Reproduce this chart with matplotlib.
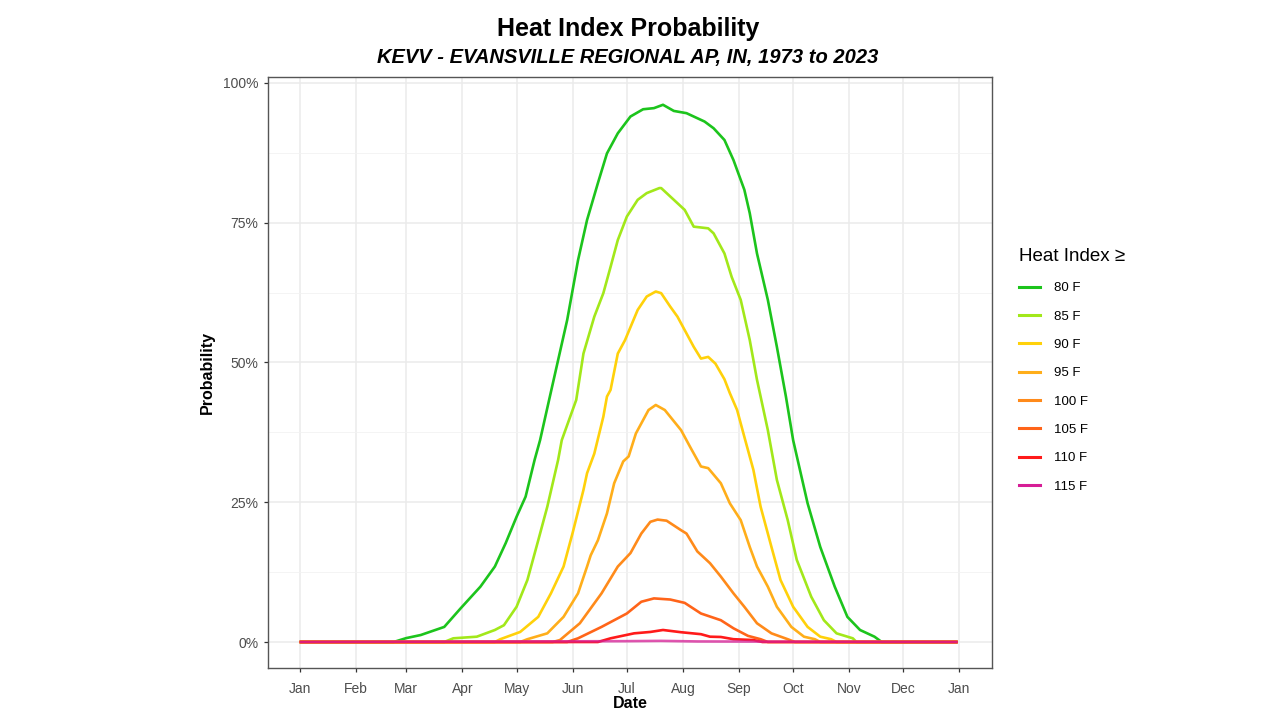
import numpy as np
import matplotlib
matplotlib.use("Agg")
import matplotlib.pyplot as plt
from matplotlib.lines import Line2D
from matplotlib.ticker import FixedLocator, PercentFormatter

plt.rcParams['font.family'] = ['Liberation Sans', 'DejaVu Sans']

# ---- data (day of year from Jan 1, probability) ----
days_80 = [0, 52, 59, 67, 80, 89, 100, 108, 114, 120, 125, 130, 133, 138, 148, 154, 159, 165,
           170, 176, 183, 190, 196, 201, 207, 214, 224, 229, 235, 240, 246, 249, 253, 259, 264,
           269, 273, 281, 288, 296, 303, 310, 318, 322, 364]
prob_80 = [0, 0, 0.007, 0.0125, 0.027, 0.060, 0.099, 0.135, 0.177, 0.224, 0.260, 0.326, 0.361,
           0.433, 0.576, 0.683, 0.755, 0.821, 0.874, 0.910, 0.940, 0.953, 0.955, 0.961, 0.950,
           0.946, 0.931, 0.919, 0.898, 0.862, 0.809, 0.767, 0.695, 0.612, 0.528, 0.439, 0.361,
           0.248, 0.170, 0.099, 0.045, 0.0215, 0.0095, 0, 0]

days_85 = [0, 80, 85, 98, 108, 113, 120, 126, 132, 137, 143, 145, 153, 157, 163, 168, 172, 176,
           181, 187, 192, 199, 200, 207, 213, 218, 226, 229, 235, 239, 244, 249, 253, 255, 259,
           264, 270, 275, 283, 290, 297, 306, 308, 364]
prob_85 = [0, 0, 0.0066, 0.0095, 0.0215, 0.030, 0.063, 0.111, 0.182, 0.242, 0.326, 0.361, 0.433,
           0.516, 0.582, 0.624, 0.671, 0.719, 0.761, 0.791, 0.803, 0.812, 0.812, 0.791, 0.773,
           0.743, 0.740, 0.731, 0.695, 0.653, 0.612, 0.540, 0.469, 0.439, 0.379, 0.290, 0.218,
           0.147, 0.081, 0.039, 0.0155, 0.0066, 0, 0]

days_90 = [0, 108, 111, 122, 132, 139, 146, 151, 157, 159, 163, 168, 170, 172, 176, 180, 187,
           192, 197, 200, 205, 209, 214, 218, 222, 226, 230, 235, 238, 242, 246, 251, 255, 261,
           266, 273, 281, 288, 294, 297, 364]
prob_90 = [0, 0, 0.005, 0.018, 0.045, 0.087, 0.135, 0.195, 0.272, 0.302, 0.337, 0.403, 0.439,
           0.451, 0.516, 0.540, 0.594, 0.618, 0.627, 0.624, 0.600, 0.582, 0.552, 0.528, 0.507,
           0.510, 0.498, 0.470, 0.445, 0.415, 0.367, 0.308, 0.242, 0.170, 0.111, 0.063, 0.027,
           0.0095, 0.005, 0, 0]

days_95 = [0, 122, 126, 137, 146, 154, 159, 161, 165, 170, 174, 179, 182, 186, 189, 193, 197,
           202, 205, 211, 216, 222, 226, 233, 238, 244, 249, 253, 259, 264, 272, 279, 285, 288, 364]
prob_95 = [0, 0, 0.005, 0.0155, 0.045, 0.087, 0.135, 0.155, 0.182, 0.230, 0.284, 0.323, 0.332,
           0.373, 0.391, 0.415, 0.424, 0.415, 0.403, 0.379, 0.349, 0.314, 0.311, 0.284, 0.248,
           0.218, 0.170, 0.135, 0.099, 0.063, 0.027, 0.0095, 0.005, 0, 0]

days_100 = [0, 140, 144, 155, 167, 176, 183, 189, 194, 198, 203, 211, 214, 220, 227, 233, 240,
            246, 253, 261, 270, 274, 364]
prob_100 = [0, 0, 0.0035, 0.0335, 0.087, 0.135, 0.159, 0.194, 0.215, 0.219, 0.217, 0.200, 0.194,
            0.162, 0.141, 0.117, 0.087, 0.063, 0.0335, 0.0155, 0.005, 0, 0]

days_105 = [0, 148, 154, 167, 181, 189, 196, 205, 213, 222, 233, 240, 248, 255, 259, 364]
prob_105 = [0, 0, 0.0066, 0.027, 0.051, 0.072, 0.078, 0.076, 0.070, 0.051, 0.039, 0.0245, 0.011,
            0.005, 0, 0]

days_110 = [0, 165, 172, 185, 194, 201, 211, 222, 227, 233, 240, 251, 256, 364]
prob_110 = [0, 0, 0.0066, 0.0155, 0.018, 0.0215, 0.0175, 0.014, 0.0095, 0.009, 0.005, 0.0035, 0, 0]

days_115 = [0, 180, 200, 220, 364]
prob_115 = [0, 0.0015, 0.002, 0.001, 0]

labels = ["80 F", "85 F", "90 F", "95 F", "100 F", "105 F", "110 F", "115 F"]
colors = ["#1cc41c", "#a2e81a", "#ffd10a", "#ffae1a", "#ff8a1a", "#ff6419", "#ff1a1a", "#d61e96"]

month_days = [0, 31, 59, 90, 120, 151, 181, 212, 243, 273, 304, 334, 365]
month_labels = ["Jan", "Feb", "Mar", "Apr", "May", "Jun", "Jul", "Aug", "Sep", "Oct", "Nov",
                "Dec", "Jan"]
y_ticks = [0, 0.25, 0.5, 0.75, 1.0]

series = [(days_80, prob_80), (days_85, prob_85), (days_90, prob_90), (days_95, prob_95),
          (days_100, prob_100), (days_105, prob_105), (days_110, prob_110), (days_115, prob_115)]

fig = plt.figure(figsize=(12.8, 7.2), dpi=100)
ax = fig.add_axes([268 / 1280, 52 / 720, 724 / 1280, 591 / 720])

for i, (d, p) in enumerate(series):
    a = 0.75 if i == len(series) - 1 else 1.0
    ax.plot(d, p, color=colors[i], lw=1.9, alpha=a, solid_capstyle='butt', zorder=3 + i)

ax.set_xlim(-17.5, 383)
ax.set_ylim(-0.0465, 1.0107)

ax.xaxis.set_major_locator(FixedLocator(month_days))
ax.set_xticklabels(month_labels)
ax.yaxis.set_major_locator(FixedLocator(y_ticks))
ax.yaxis.set_minor_locator(FixedLocator([0.125, 0.375, 0.625, 0.875]))
ax.yaxis.set_major_formatter(PercentFormatter(1.0, decimals=0))

ax.grid(True, which='major', color='#ebebeb', lw=1.1, zorder=0)
ax.grid(True, which='minor', axis='y', color='#f2f2f2', lw=0.6, zorder=0)
ax.set_axisbelow(True)

for s in ax.spines.values():
    s.set_color('#555555')
    s.set_linewidth(1.0)
ax.tick_params(which='major', length=3, width=0.9, color='#333333', labelcolor='#4d4d4d',
               labelsize=10, pad=4)
ax.tick_params(axis='x', which='major', pad=7)
ax.tick_params(which='minor', length=0)

ax.set_xlabel("Date", fontsize=11.5, fontweight='bold', labelpad=0)
ax.set_ylabel("Probability", fontsize=11.5, fontweight='bold', labelpad=6)

fig.text(0.4905, 0.96, "Heat Index Probability", ha='center', va='center', fontsize=18,
         fontweight='bold')
fig.text(0.4905, 0.92, "KEVV - EVANSVILLE REGIONAL AP, IN, 1973 to 2023", ha='center',
         va='center', fontsize=14.5, fontweight='bold', fontstyle='italic')

handles = [Line2D([], [], color=c, lw=2.2) for c in colors]
leg = fig.legend(handles, labels, loc='upper left', bbox_to_anchor=(1014 / 1280, 1 - 243 / 720),
                 frameon=False, fontsize=9.5, title="Heat Index \u2265", title_fontsize=13.5,
                 handlelength=1.6, handletextpad=1.0, labelspacing=1.22, borderaxespad=0)
leg._legend_box.align = "left"
leg._legend_box.sep = 12

fig.savefig("out.png", dpi=100)
